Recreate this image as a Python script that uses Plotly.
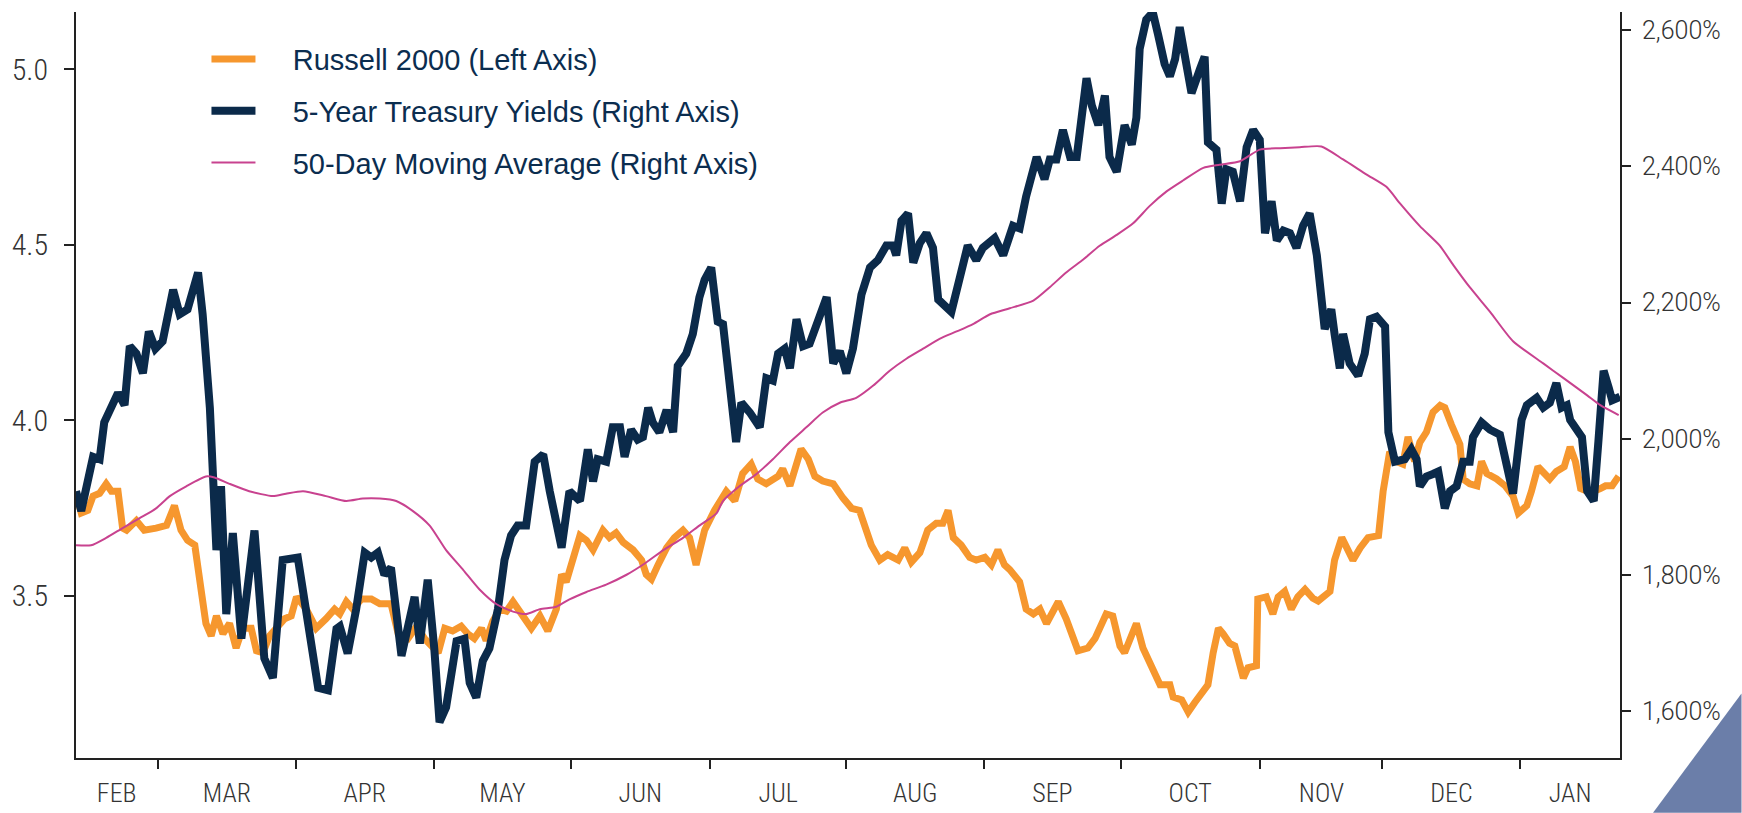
import plotly.graph_objects as go

# ---- x axis: trading-day index ----
month_labels = ["FEB", "MAR", "APR", "MAY", "JUN", "JUL", "AUG", "SEP", "OCT", "NOV", "DEC", "JAN"]
month_starts = [12.5, 33.6, 54.5, 75.5, 96.6, 117.4, 138.4, 159.3, 180.4, 199.1, 220.0]
month_mids = [6.2, 23.0, 44.0, 65.0, 86.0, 107.0, 127.9, 148.8, 169.8, 189.8, 209.6, 227.7]

# ---- 5-Year Treasury yields ----
treasury_days = [
    0.0, 0.8, 2.6, 3.6, 4.3, 5.4, 6.4, 7.4, 8.2, 9.2, 10.2, 11.1, 12.1, 13.2, 14.8, 15.8, 17.0, 18.6, 19.3,
    20.4, 21.4, 22.1, 22.9, 23.9, 25.2, 27.2, 28.7, 30.0, 31.5, 33.8, 35.1, 36.9, 38.4, 39.7, 40.2, 41.4,
    42.7, 44.0, 45.0, 46.0, 47.0, 48.0, 49.6, 50.6, 51.6, 52.4, 53.6, 54.6, 55.4, 56.4, 58.0, 59.2, 60.0,
    61.0, 62.0, 63.0, 64.3, 65.3, 66.3, 67.3, 68.6, 69.9, 71.2, 72.2, 74.0, 75.2, 76.8, 78.0, 78.8, 79.5,
    80.8, 81.8, 82.9, 83.6, 84.6, 85.6, 86.4, 87.2, 87.9, 88.9, 90.0, 91.0, 91.7, 93.0, 94.0, 95.0, 95.8,
    96.8, 97.8, 98.6, 99.6, 100.6, 101.4, 102.7, 104.2, 105.2, 106.2, 107.0, 108.0, 108.8, 109.8, 110.8,
    111.8, 112.6, 113.3, 114.4, 115.4, 116.4, 117.4, 118.4, 119.7, 121.0, 122.2, 123.5, 124.5, 125.0,
    125.8, 126.8, 127.6, 128.6, 129.6, 130.6, 131.4, 133.4, 134.7, 135.9, 137.2, 138.2, 140.0, 140.8,
    141.3, 142.8, 143.8, 144.8, 146.4, 147.6, 148.4, 149.4, 150.4, 151.5, 152.5, 154.0, 154.8, 155.8,
    156.8, 157.5, 158.6, 159.8, 160.9, 161.6, 162.1, 163.1, 164.1, 164.9, 165.9, 166.7, 167.5, 168.2,
    169.2, 170.0, 171.3, 172.0, 172.5, 173.8, 174.6, 175.3, 176.3, 177.4, 178.4, 179.4, 180.4, 181.2,
    182.2, 183.0, 184.0, 185.0, 186.0, 187.0, 188.0, 189.1, 190.3, 191.3, 191.8, 192.6, 193.1, 194.1,
    195.4, 196.4, 197.2, 198.2, 199.5, 200.0, 201.0, 202.5, 203.5, 204.3, 204.8, 205.8, 206.8, 207.6,
    208.6, 209.4, 210.4, 211.4, 212.4, 212.9, 214.2, 215.5, 217.0, 219.0, 220.3, 221.1, 222.6, 223.6,
    224.6, 225.6, 226.4, 227.2, 227.7, 228.5, 229.5, 230.3, 231.3, 232.0, 232.8, 233.6, 234.1, 235.3,
]
treasury_vals = [
    3.798, 3.742, 3.896, 3.889, 3.994, 4.036, 4.078, 4.043, 4.211, 4.190, 4.134, 4.253, 4.204, 4.225, 4.372,
    4.302, 4.316, 4.421, 4.302, 4.036, 3.630, 3.812, 3.448, 3.679, 3.378, 3.686, 3.322, 3.266, 3.602, 3.609,
    3.462, 3.238, 3.231, 3.406, 3.413, 3.336, 3.462, 3.623, 3.609, 3.623, 3.560, 3.580, 3.329, 3.419, 3.497,
    3.364, 3.546, 3.350, 3.140, 3.182, 3.371, 3.378, 3.252, 3.210, 3.315, 3.350, 3.462, 3.602, 3.672, 3.700,
    3.700, 3.882, 3.903, 3.798, 3.637, 3.798, 3.770, 3.917, 3.826, 3.889, 3.882, 3.980, 3.980, 3.896, 3.973,
    3.945, 3.952, 4.036, 3.994, 3.966, 4.029, 3.966, 4.155, 4.190, 4.246, 4.350, 4.400, 4.435, 4.281, 4.274,
    4.078, 3.938, 4.050, 4.022, 3.980, 4.120, 4.113, 4.190, 4.204, 4.148, 4.288, 4.211, 4.218, 4.260, 4.281,
    4.351, 4.162, 4.197, 4.134, 4.204, 4.358, 4.435, 4.456, 4.498, 4.498, 4.470, 4.568, 4.589, 4.449, 4.505,
    4.533, 4.491, 4.344, 4.309, 4.407, 4.498, 4.456, 4.491, 4.519, 4.490, 4.470, 4.554, 4.547, 4.638, 4.750,
    4.687, 4.743, 4.743, 4.827, 4.750, 4.750, 4.974, 4.897, 4.841, 4.925, 4.750, 4.708, 4.841, 4.785, 4.862,
    5.058, 5.141, 5.162, 5.099, 5.015, 4.980, 5.029, 5.120, 5.001, 4.932, 5.001, 5.036, 4.792, 4.771, 4.617,
    4.715, 4.708, 4.624, 4.778, 4.827, 4.799, 4.533, 4.624, 4.512, 4.540, 4.533, 4.491, 4.554, 4.589, 4.470,
    4.260, 4.316, 4.246, 4.148, 4.246, 4.162, 4.127, 4.190, 4.288, 4.295, 4.267, 3.966, 3.882, 3.889, 3.917,
    3.889, 3.812, 3.840, 3.847, 3.854, 3.749, 3.798, 3.812, 3.882, 3.882, 3.952, 3.994, 3.973, 3.959, 3.791,
    4.001, 4.043, 4.064, 4.036, 4.050, 4.106, 4.036, 4.043, 4.001, 3.980, 3.952, 3.798, 3.770, 3.938, 4.141,
    4.092, 4.057, 4.067,
]

# ---- Russell 2000 ----
russell_days = [
    0.0, 0.8, 1.8, 2.6, 3.6, 4.6, 5.4, 6.4, 7.1, 7.7, 9.2, 10.4, 12.2, 13.8, 15.0, 16.0, 17.0, 18.1, 19.1,
    19.8, 20.6, 21.4, 22.4, 23.4, 24.4, 25.4, 26.7, 27.5, 28.5, 29.5, 30.8, 31.8, 32.8, 33.6, 35.1, 36.6,
    38.1, 39.4, 40.2, 41.2, 42.2, 43.5, 45.0, 46.3, 48.0, 49.1, 50.6, 51.9, 53.1, 54.4, 55.2, 56.2, 57.4,
    58.7, 59.7, 60.7, 61.8, 62.5, 63.5, 64.6, 65.6, 66.6, 67.9, 69.4, 70.7, 71.9, 73.2, 74.0, 74.7, 75.7,
    76.8, 77.8, 78.8, 80.3, 81.3, 82.3, 83.4, 84.9, 86.2, 86.9, 87.7, 88.7, 90.0, 91.2, 92.5, 93.5, 94.5,
    95.8, 97.3, 99.1, 100.4, 101.6, 102.9, 103.9, 105.2, 107.0, 107.7, 108.8, 109.8, 110.5, 111.6, 112.6,
    113.8, 115.4, 116.9, 118.2, 119.4, 121.2, 122.5, 123.7, 125.3, 126.3, 127.3, 128.6, 129.8, 131.1,
    132.1, 132.9, 133.7, 134.9, 136.2, 137.2, 138.5, 139.5, 140.5, 141.5, 142.3, 143.8, 144.8, 145.9,
    146.9, 147.9, 149.7, 150.9, 152.7, 154.2, 155.3, 157.0, 158.0, 159.1, 159.8, 161.6, 162.6, 163.9,
    165.2, 166.7, 167.2, 168.5, 169.5, 170.5, 171.5, 172.5, 173.3, 174.1, 174.8, 175.8, 176.6, 177.9,
    178.6, 179.9, 180.1, 181.4, 182.4, 183.2, 184.2, 185.2, 186.2, 187.3, 188.5, 189.3, 191.1, 191.8,
    192.9, 194.6, 195.7, 196.9, 198.5, 199.2, 200.2, 201.2, 202.2, 203.0, 204.0, 204.8, 205.8, 206.8,
    207.9, 208.6, 209.6, 210.4, 210.9, 211.4, 212.4, 213.5, 214.2, 215.0, 216.5, 217.8, 219.0, 219.8,
    221.1, 221.8, 222.8, 224.6, 225.6, 226.8, 227.7, 228.5, 229.3, 230.3, 231.3, 232.3, 233.1, 234.1, 235.1,
]
russell_vals = [
    1920, 1891, 1895, 1916, 1920, 1934, 1923, 1923, 1869, 1866, 1880, 1866, 1869, 1873, 1902, 1866, 1851,
    1844, 1776, 1729, 1711, 1740, 1714, 1729, 1693, 1722, 1722, 1689, 1686, 1711, 1725, 1736, 1740, 1768,
    1750, 1722, 1736, 1750, 1743, 1761, 1750, 1765, 1765, 1758, 1758, 1714, 1707, 1725, 1707, 1696, 1686,
    1722, 1718, 1725, 1714, 1707, 1722, 1704, 1732, 1750, 1747, 1761, 1743, 1722, 1740, 1718, 1750, 1801,
    1790, 1826, 1858, 1851, 1837, 1866, 1855, 1862, 1848, 1837, 1822, 1801, 1794, 1815, 1840, 1855, 1866,
    1855, 1815, 1866, 1895, 1923, 1909, 1949, 1963, 1941, 1934, 1945, 1956, 1931, 1959, 1985, 1970, 1945,
    1938, 1934, 1913, 1898, 1895, 1844, 1822, 1830, 1822, 1840, 1819, 1833, 1866, 1876, 1876, 1895, 1855,
    1844, 1826, 1822, 1826, 1815, 1837, 1815, 1808, 1790, 1750, 1743, 1750, 1729, 1761, 1736, 1689, 1693,
    1707, 1743, 1740, 1696, 1686, 1729, 1693, 1664, 1639, 1639, 1621, 1617, 1599, 1613, 1628, 1639, 1686,
    1722, 1714, 1700, 1696, 1649, 1664, 1667, 1765, 1768, 1743, 1768, 1776, 1750, 1768, 1779, 1766, 1762,
    1776, 1822, 1855, 1822, 1840, 1855, 1858, 1923, 1981, 1967, 1963, 2003, 1967, 1995, 2010, 2039, 2049,
    2046, 2021, 2003, 1992, 1941, 1934, 1931, 1967, 1949, 1941, 1931, 1916, 1891, 1902, 1923, 1959, 1941,
    1952, 1959, 1988, 1967, 1927, 1923, 1923, 1927, 1931, 1931, 1945,
]

# ---- 50-day moving average of the 5-year yield ----
ma_days = [
    0.0, 2.3, 4.6, 7.1, 9.7, 12.2, 14.3, 16.8, 19.8, 21.1, 23.4, 26.4, 30.0, 32.0, 34.6, 38.1, 41.2, 43.7,
    46.3, 48.8, 51.3, 53.9, 56.4, 59.0, 61.5, 64.1, 66.6, 68.6, 70.7, 73.2, 75.2, 77.8, 80.8, 83.9, 86.9,
    89.5, 92.5, 95.0, 97.6, 98.6, 101.1, 103.7, 106.2, 108.8, 111.3, 113.8, 116.4, 118.9, 121.5, 124.0,
    126.6, 129.1, 131.6, 134.2, 136.7, 139.3, 142.3, 145.9, 148.4, 150.9, 153.5, 156.0, 158.6, 161.1,
    163.6, 166.2, 168.7, 171.8, 174.3, 177.4, 180.4, 183.5, 186.5, 189.8, 193.1, 196.7, 199.7, 201.8,
    204.8, 207.8, 209.9, 212.4, 215.5, 219.0, 223.6, 226.7, 230.3, 232.3, 235.1,
]
ma_vals = [
    3.644, 3.644, 3.665, 3.693, 3.721, 3.749, 3.784, 3.812, 3.840, 3.837, 3.819, 3.798, 3.784, 3.791, 3.798,
    3.784, 3.770, 3.777, 3.777, 3.770, 3.742, 3.700, 3.630, 3.574, 3.518, 3.476, 3.455, 3.448, 3.462, 3.469,
    3.490, 3.511, 3.532, 3.560, 3.595, 3.630, 3.665, 3.700, 3.735, 3.770, 3.812, 3.847, 3.889, 3.938, 3.980,
    4.022, 4.050, 4.064, 4.099, 4.141, 4.176, 4.204, 4.232, 4.253, 4.274, 4.302, 4.319, 4.341, 4.379, 4.421,
    4.458, 4.497, 4.528, 4.561, 4.610, 4.652, 4.683, 4.719, 4.728, 4.738, 4.771, 4.775, 4.778, 4.780, 4.743,
    4.700, 4.665, 4.617, 4.553, 4.498, 4.442, 4.379, 4.309, 4.225, 4.162, 4.120, 4.071, 4.043, 4.015,
]

left_ticks = [3.5, 4.0, 4.5, 5.0]
right_ticks = [1600, 1800, 2000, 2200, 2400, 2600]

ORANGE = "#F6972E"
NAVY = "#0B2A4A"
PINK = "#C8428F"
TICK_FONT = "Roboto Condensed, Liberation Sans Narrow, Arial Narrow, Roboto, sans-serif"
NB = "\u00a0" * 4

fig = go.Figure()
fig.add_trace(go.Scatter(x=russell_days, y=russell_vals, mode="lines", name=NB + "Russell 2000 (Left Axis)",
                         line=dict(color=ORANGE, width=7), yaxis="y", legendgroup="a"))
fig.add_trace(go.Scatter(x=treasury_days, y=treasury_vals, mode="lines", name=NB + "5-Year Treasury Yields (Right Axis)",
                         line=dict(color=NAVY, width=8), yaxis="y2", legendgroup="b"))
fig.add_trace(go.Scatter(x=ma_days, y=ma_vals, mode="lines", name=NB + "50-Day Moving Average (Right Axis)",
                         line=dict(color=PINK, width=2, shape="spline", smoothing=0.6), yaxis="y2", legendgroup="c"))

tickfont = dict(family=TICK_FONT, size=26, color="#333333", weight=300)

fig.update_layout(
    width=1742, height=813,
    margin=dict(l=76, r=122, t=12, b=55),
    paper_bgcolor="white", plot_bgcolor="white",
    showlegend=True,
    legend=dict(x=0.0845, y=0.971, xanchor="left", yanchor="top", bgcolor="rgba(0,0,0,0)",
                font=dict(family="Liberation Sans, Arial, sans-serif", size=29, color="#0B2D4F"),
                itemwidth=44, tracegroupgap=11, traceorder="grouped"),
    xaxis=dict(range=[0, 235.3], automargin=False, showgrid=False, zeroline=False, showline=True,
               linecolor="#222222", linewidth=2,
               tickmode="array", tickvals=month_mids, ticktext=month_labels, ticks="outside", ticklen=11,
               tickcolor="rgba(0,0,0,0)", tickfont=tickfont,
               minor=dict(tickmode="array", tickvals=month_starts, ticks="outside", ticklen=9,
                          tickcolor="#222222", tickwidth=2)),
    yaxis=dict(side="right", range=[1531.6, 2626.4], automargin=False, showgrid=False, zeroline=False,
               showline=True, linecolor="#222222", linewidth=2, tickmode="array", tickvals=right_ticks,
               ticktext=[f"{v:,}%" for v in right_ticks], ticks="outside", ticklen=9, tickwidth=2,
               tickcolor="#222222", ticklabelstandoff=6,
               tickfont=dict(family="Roboto, Open Sans, sans-serif", size=25, color="#333333", weight=300)),
    yaxis2=dict(side="left", overlaying="y", anchor="x", range=[3.038, 5.163], automargin=False,
                showgrid=False, zeroline=False,
                showline=True, linecolor="#222222", linewidth=2, tickmode="array", tickvals=left_ticks,
                ticktext=[f"{v:.1f}" for v in left_ticks], ticks="outside", ticklen=10, tickwidth=2,
                tickcolor="#222222", ticklabelstandoff=10, tickfont=dict(tickfont, size=30)),
    shapes=[dict(type="path", xref="paper", yref="paper",
                 path="M 1.0787,0.0866 L 1.0787,-0.0733 L 1.0214,-0.0733 Z",
                 fillcolor="#6B7EA9", line=dict(width=0), layer="above")],
)

fig.write_html("out.html", config={"displayModeBar": False},
               post_script="document.body.style.margin='0';")
